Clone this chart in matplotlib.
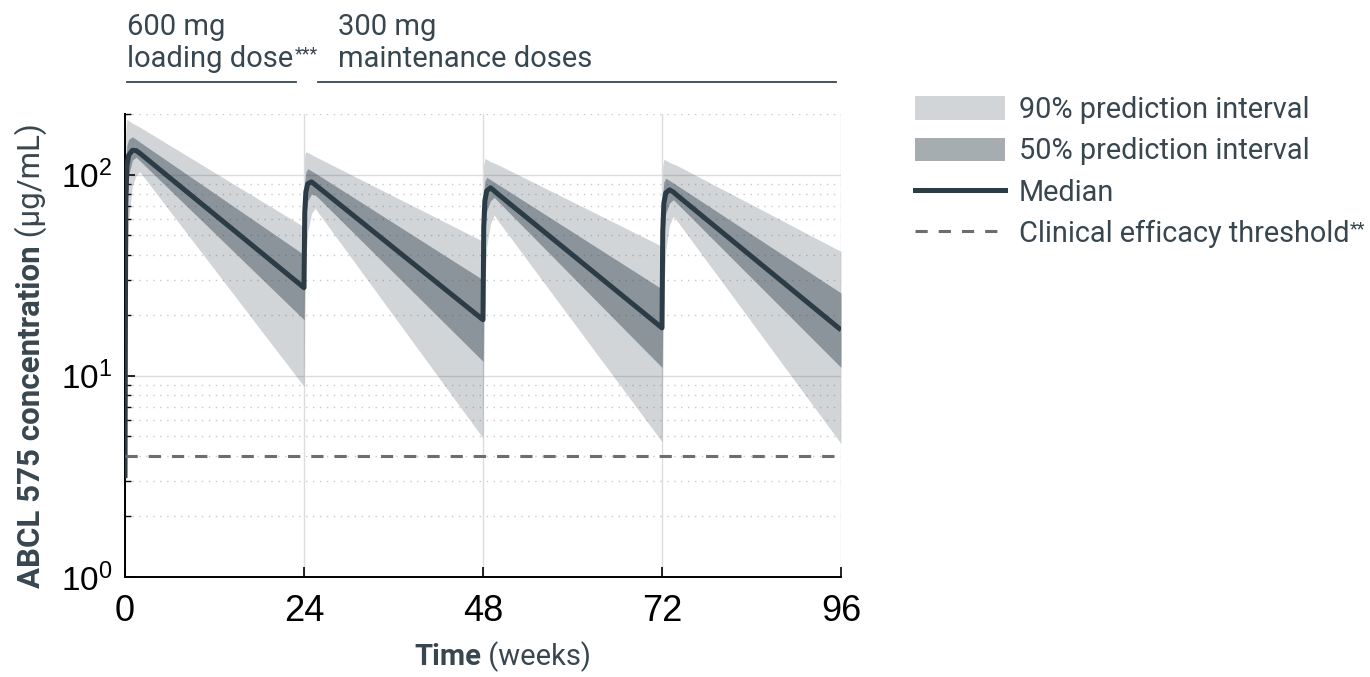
import matplotlib
matplotlib.use("Agg")
import matplotlib.pyplot as plt
from matplotlib.patches import Patch
from matplotlib.lines import Line2D
from matplotlib.ticker import LogLocator, FixedLocator

# ---------------- data ----------------
time_weeks = [0, 0.1, 0.25, 0.5, 1.0, 1.5, 2.0,
              24, 24.1, 24.25, 24.5, 25.0, 25.5, 26.0,
              48, 48.1, 48.25, 48.5, 49.0, 49.5, 50.0,
              72, 72.1, 72.25, 72.5, 73.0, 73.5, 74.0,
              96]

median = [3.1, 70, 110, 125, 132, 131.5, 127.5,
          27.4, 65, 82, 90, 92, 89, 86,
          19.0, 55, 74, 83, 86, 83, 80,
          17.3, 52, 72, 81, 84, 82, 79,
          16.9]

pi50_upper = [3.2, 110, 140, 150, 154, 149.6, 145,
              40, 90, 103, 107, 104.3, 101.6, 99,
              30, 80, 93, 97, 94.4, 91.9, 89.4,
              27, 78, 92, 96, 93.5, 91, 88.5,
              25.8]

pi50_lower = [3.0, 30, 70, 100, 118, 122, 117,
              19.0, 40, 62, 74, 80, 79, 76,
              11.8, 30, 52, 66, 74, 77, 73.7,
              11.0, 28, 50, 64, 72, 75, 72,
              11.0]

pi90_upper = [3.2, 160, 188, 185.6, 180, 176, 172,
              55, 125, 130, 128.6, 125.8, 123, 120.3,
              46.6, 112, 120, 119, 116, 114, 112,
              44, 110, 119, 118, 115, 113, 111,
              41.5]

pi90_lower = [3.0, 10, 30, 60, 88, 99, 103,
              8.85, 20, 38, 52, 64, 68, 64,
              4.9, 12, 28, 44, 57, 63, 59,
              4.7, 11, 26, 42, 56, 62, 59,
              4.6]

threshold = 4.0
x_ticks = [0, 24, 48, 72, 96]
legend_labels = ["90% prediction interval", "50% prediction interval",
                 "Median", "Clinical efficacy threshold"]

# ---------------- style ----------------
W, H = 1370, 677
DARK = "#2c3c47"
TEXT = "#37464f"
fig = plt.figure(figsize=(W / 100, H / 100), dpi=100)

def fx(px):
    return px / W

def fy(py):
    return 1 - py / H

ax = fig.add_axes([fx(125), fy(577), fx(841) - fx(125), fy(114) - fy(577)])

ax.fill_between(time_weeks, pi90_lower, pi90_upper, color=DARK, alpha=0.21,
                linewidth=0, zorder=2)
ax.fill_between(time_weeks, pi50_lower, pi50_upper, color=DARK, alpha=0.42,
                linewidth=0, zorder=3)
ax.plot(time_weeks, median, color=DARK, lw=3.6, solid_joinstyle="round",
        solid_capstyle="butt", zorder=4)
ax.axhline(threshold, color="#6d6d6d", lw=2.2, dashes=(4.0, 3.6), zorder=5)

ax.set_yscale("log")
ax.set_ylim(1, 200)
ax.set_xlim(0, 96)
ax.set_xticks(x_ticks)
ax.set_xticklabels([str(v) for v in x_ticks])
ax.yaxis.set_major_locator(FixedLocator([1, 10, 100]))
ax.yaxis.set_minor_locator(LogLocator(base=10, subs=range(2, 10)))

ax.grid(True, which="major", axis="both", color="#dcdcdc", lw=1.0, zorder=0)
ax.grid(True, which="minor", axis="y", color="#c8c8c8", lw=1.0,
        linestyle=(0, (1, 4)), zorder=0)
ax.set_axisbelow(True)

for s in ["top", "right"]:
    ax.spines[s].set_visible(False)
for s in ["left", "bottom"]:
    ax.spines[s].set_color("black")
    ax.spines[s].set_linewidth(1.4)

ax.tick_params(axis="both", which="major", direction="in", length=7, width=1.2,
               colors="black")
ax.tick_params(axis="x", which="major", labelsize=26, pad=12)
ax.tick_params(axis="y", which="major", labelsize=24, pad=9)
ax.tick_params(axis="y", which="minor", direction="in", length=4, width=1.0)
ax.tick_params(axis="x", which="minor", bottom=False)
for lab in ax.get_xticklabels() + ax.get_yticklabels():
    lab.set_fontfamily("Liberation Sans")

# axis labels (bold + regular parts)
LBL = 22.5
yl1 = fig.text(fx(31), fy(588), "ABCL 575 concentration", rotation=90,
               ha="center", va="bottom", fontsize=LBL, fontweight="bold",
               family="Roboto", color=TEXT)
ax.annotate(" (µg/mL)", xy=(0.5, 1.0), xycoords=yl1, rotation=90,
            ha="center", va="bottom", fontsize=LBL, family="Roboto",
            color=TEXT, annotation_clip=False)

XLBL = 21
fig.text(fx(481), fy(657), "Time", ha="right", va="center",
         fontsize=XLBL, fontweight="bold", family="Roboto", color=TEXT)
fig.text(fx(481), fy(657), " (weeks)", ha="left", va="center",
         fontsize=XLBL, family="Roboto", color=TEXT)

# dosing annotations above the plot
ANN = 21
fig.text(fx(127), fy(35), "600 mg", ha="left", va="baseline", fontsize=ANN,
         family="Roboto", color=TEXT)
ld = fig.text(fx(127), fy(67), "loading dose", ha="left", va="baseline",
              fontsize=ANN, family="Roboto", color=TEXT)
ax.annotate("***", xy=(1.0, 1.0), xycoords=ld, ha="left", va="top",
            xytext=(1, 0), textcoords="offset points",
            fontsize=13, family="Roboto", color=TEXT, annotation_clip=False)
fig.text(fx(338), fy(35), "300 mg", ha="left", va="baseline", fontsize=ANN,
         family="Roboto", color=TEXT)
fig.text(fx(338), fy(67), "maintenance doses", ha="left", va="baseline",
         fontsize=ANN, family="Roboto", color=TEXT)
fig.add_artist(Line2D([fx(127), fx(296)], [fy(82), fy(82)], color=TEXT, lw=1.3))
fig.add_artist(Line2D([fx(318), fx(836)], [fy(82), fy(82)], color=TEXT, lw=1.3))

# legend
handles = [
    Patch(facecolor=DARK, alpha=0.21, linewidth=0),
    Patch(facecolor=DARK, alpha=0.42, linewidth=0),
    Line2D([], [], color=DARK, lw=3.6),
    Line2D([], [], color="#6d6d6d", lw=2.2, dashes=(4.0, 3.6)),
]
LEGFS = 20.8
leg = fig.legend(handles, legend_labels, loc="upper left",
                 bbox_to_anchor=(fx(915), fy(96)), frameon=False,
                 prop={"family": "Roboto", "size": LEGFS},
                 handlelength=3.1, handleheight=0.87, handletextpad=0.5,
                 labelspacing=0.46, borderpad=0, borderaxespad=0)
for t in leg.get_texts():
    t.set_color(TEXT)

fig.canvas.draw()
bb = leg.get_texts()[3].get_window_extent()
fig.text(bb.x1 / W + 0.0005, bb.y1 / H, "**", ha="left", va="top",
         fontsize=13, family="Roboto", color=TEXT)

fig.savefig("out.png", dpi=100)
